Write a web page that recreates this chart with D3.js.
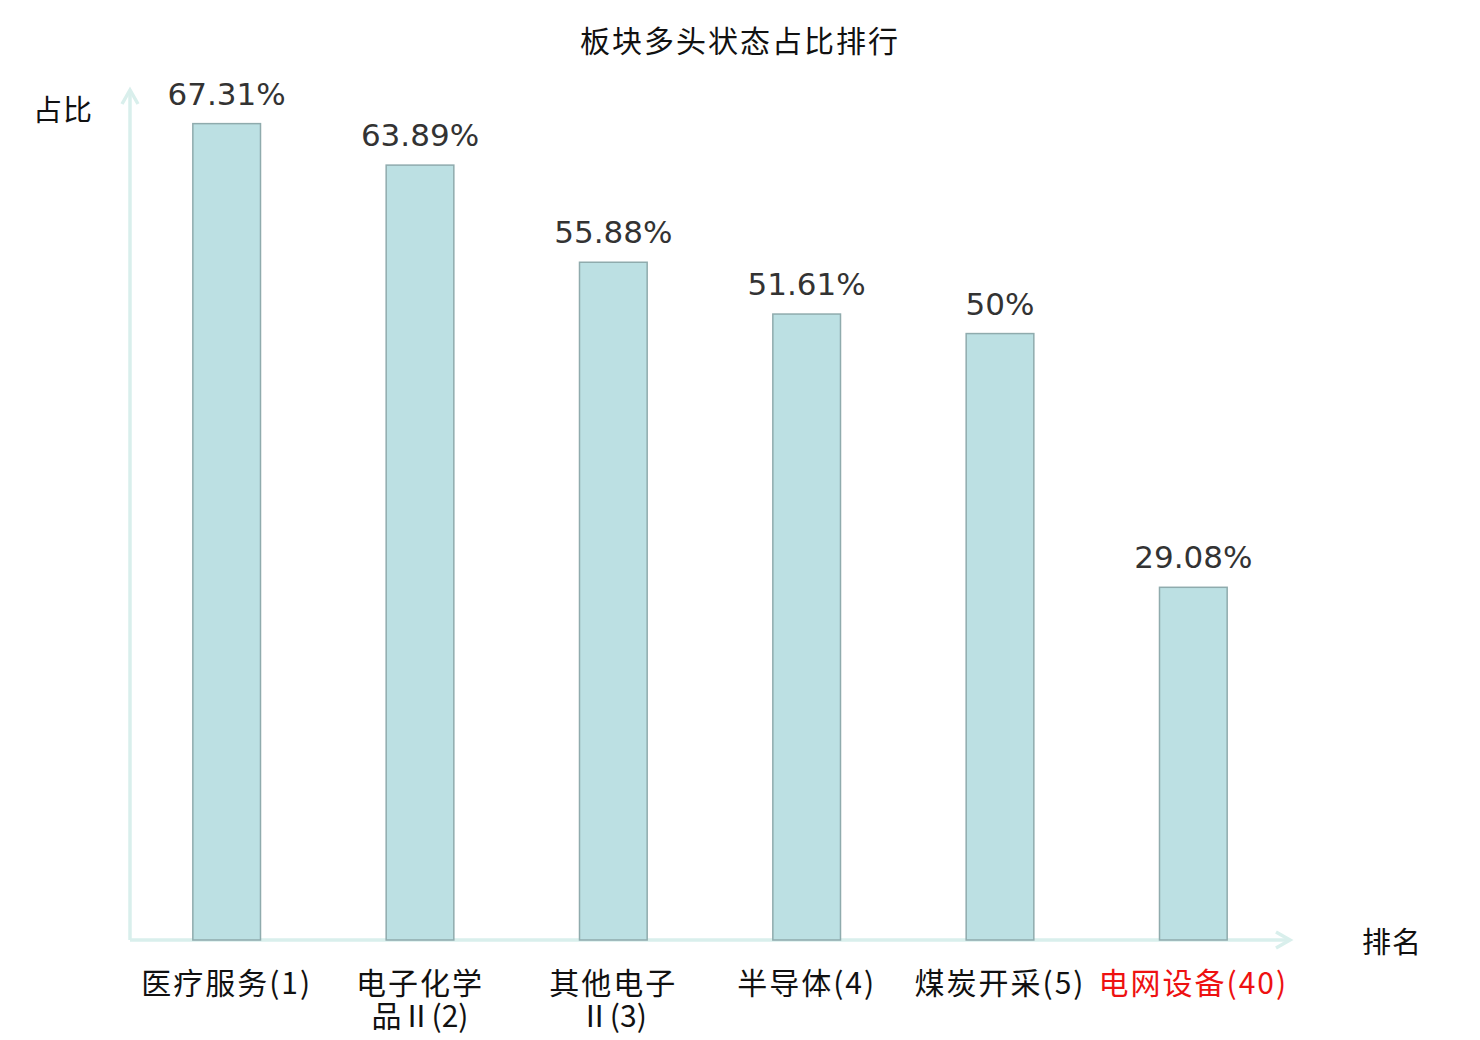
<!DOCTYPE html>
<html>
<head>
<meta charset="utf-8">
<script src="https://cdn.jsdelivr.net/npm/d3@7"></script>
<style>
	body { margin: 0; background: #fff; }
	svg text { font-family: "Noto Sans CJK SC", "Noto Sans", sans-serif; }
</style>
</head>
<body>
<svg id="svg" width="1480" height="1040"></svg>
<script>
// chart data
var sectors = ["医疗服务", "电子化学品Ⅱ", "其他电子Ⅱ", "半导体", "煤炭开采", "电网设备"];
var ranks = [1, 2, 3, 4, 5, 40];
var shares = [67.31, 63.89, 55.88, 51.61, 50, 29.08];
var highlight = "电网设备";

var title = "板块多头状态占比排行";
var yName = "占比";
var xName = "排名";

var svg = d3.select("#svg");
var plotLeft = 130, plotRight = 1290, plotTop = 91, plotBottom = 940;
var axisColor = "#d9efec";

var x = d3.scaleBand().domain(sectors).range([plotLeft, plotRight]);
var y = d3.scaleLinear().domain([0, 70]).range([plotBottom, plotTop]);

svg.append("text").attr("x", 740).attr("y", 52).attr("text-anchor", "middle")
	.style("font-size", "30px").style("letter-spacing", "2px").style("fill", "#111").text(title);

// axes with arrow heads
var axes = svg.append("g").attr("stroke", axisColor).attr("stroke-width", 3.5).attr("fill", "none");
axes.append("line").attr("x1", plotLeft).attr("y1", plotBottom).attr("x2", plotLeft).attr("y2", plotTop - 1);
axes.append("polyline").attr("points", (plotLeft - 8) + "," + (plotTop + 13) + " " + plotLeft + "," + (plotTop - 1) + " " + (plotLeft + 8) + "," + (plotTop + 13));
axes.append("line").attr("x1", plotLeft).attr("y1", plotBottom).attr("x2", plotRight).attr("y2", plotBottom);
axes.append("polyline").attr("points", (plotRight - 14) + "," + (plotBottom - 8) + " " + plotRight + "," + plotBottom + " " + (plotRight - 14) + "," + (plotBottom + 8));

svg.append("text").attr("x", 63).attr("y", 121).attr("text-anchor", "middle")
	.style("font-size", "29px").style("letter-spacing", "1px").style("fill", "#111").text(yName);
svg.append("text").attr("x", 1392).attr("y", 953).attr("text-anchor", "middle")
	.style("font-size", "29px").style("letter-spacing", "1px").style("fill", "#111").text(xName);

var barW = x.bandwidth() * 0.35;

svg.append("g").selectAll("rect").data(sectors).enter().append("rect")
	.attr("x", function(d){ return x(d) + (x.bandwidth() - barW) / 2; })
	.attr("y", function(d, i){ return y(shares[i]); })
	.attr("width", barW)
	.attr("height", function(d, i){ return plotBottom - y(shares[i]); })
	.attr("fill", "#bce0e3").attr("stroke", "#8fabad").attr("stroke-width", 1.5);

svg.append("g").selectAll("text").data(sectors).enter().append("text")
	.attr("x", function(d){ return x(d) + x.bandwidth() / 2; })
	.attr("y", function(d, i){ return y(shares[i]) - 19; })
	.attr("text-anchor", "middle")
	.style("font-family", "'DejaVu Sans', sans-serif").style("font-size", "31px").style("fill", "#333")
	.text(function(d, i){ return shares[i] + "%"; });

// category labels, names longer than 4 chars break after the 4th
var labels = svg.append("g").selectAll("text").data(sectors).enter().append("text")
	.attr("text-anchor", "middle")
	.style("font-size", "30px")
	.style("fill", function(d){ return d === highlight ? "#ee1111" : "#111"; });

labels.each(function(d, i){
	var parts = [];
	for(var k = 0; k < d.length; k += 4){
		parts.push(d.slice(k, k + 4));
	}
	parts[parts.length - 1] += "(" + ranks[i] + ")";
	var t = d3.select(this);
	for(var j = 0; j < parts.length; j++){
		t.append("tspan").attr("x", x(d) + x.bandwidth() / 2).attr("y", 994 + j * 33)
			.style("letter-spacing", j === 0 ? "2px" : "0px").text(parts[j]);
	}
});
</script>
</body>
</html>
